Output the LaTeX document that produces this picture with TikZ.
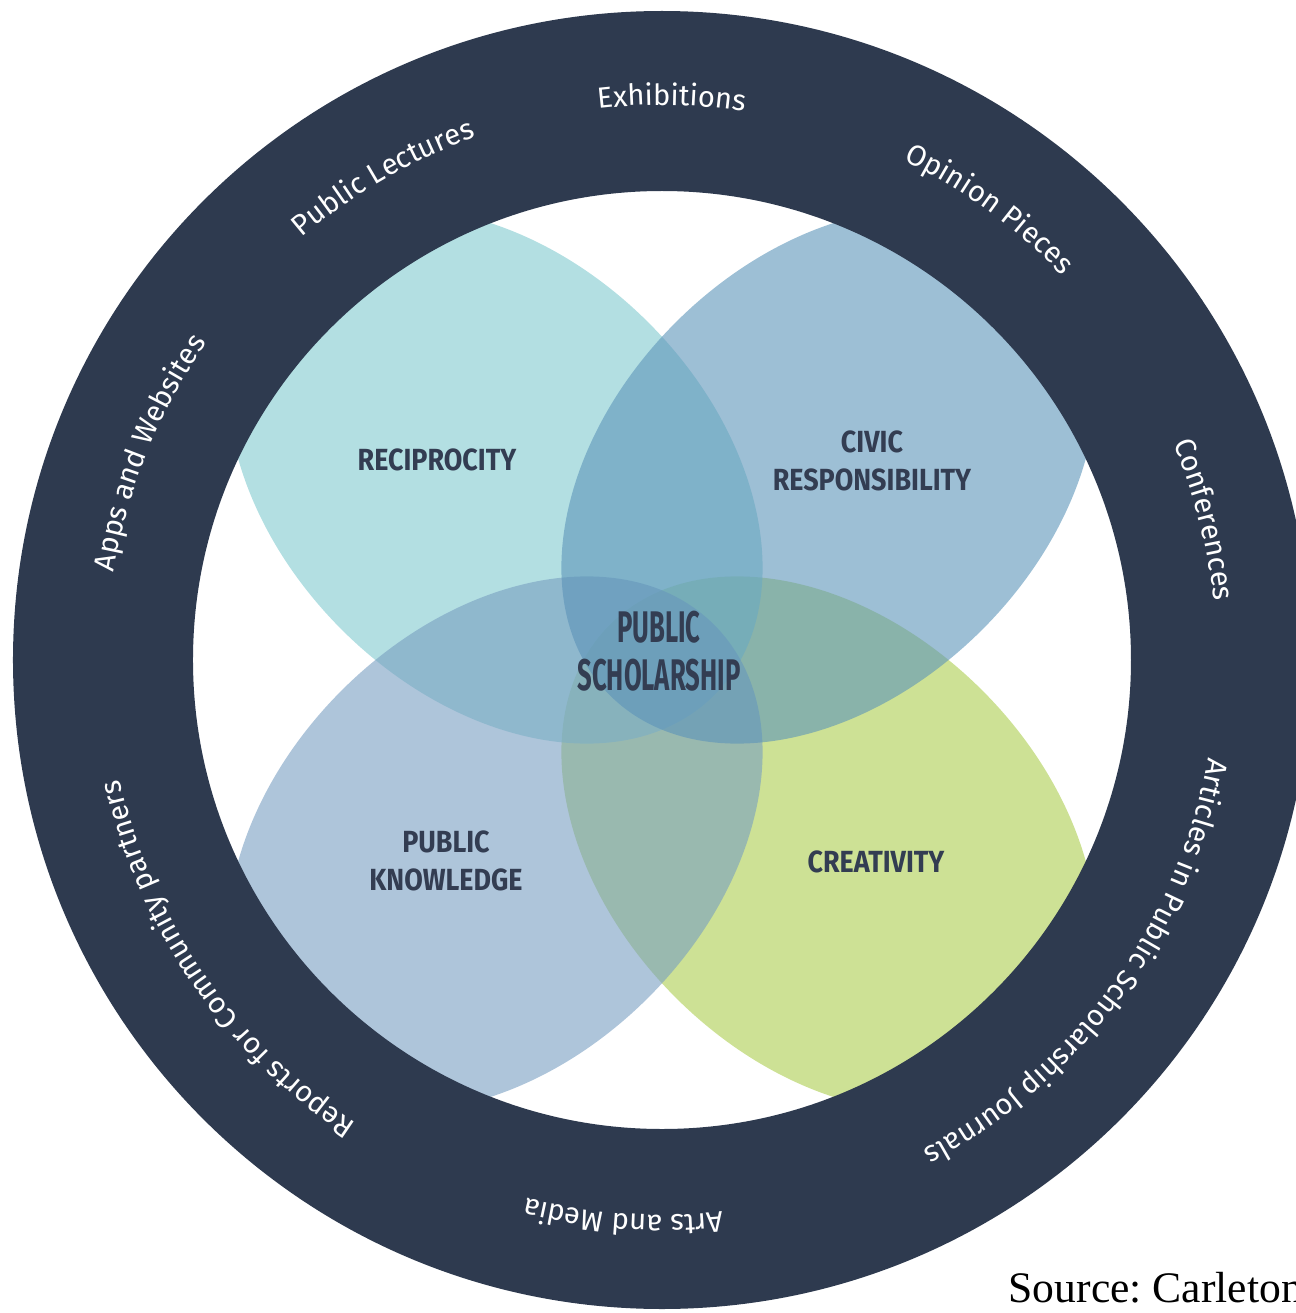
\documentclass[tikz,border=0pt]{standalone}
\usepackage{fontspec}
\setmainfont{Fira Sans}
\newfontfamily\ringfont{Fira Sans}
\newfontfamily\labelfont[FakeStretch=0.88]{Fira Sans}
\newfontfamily\titlefont[FakeStretch=0.58]{Fira Sans}
\newfontfamily\sourcefont{Liberation Serif}
\usetikzlibrary{decorations.text}
\definecolor{ringnavy}{HTML}{2E3A4F}
\definecolor{labelnavy}{HTML}{333D52}
\definecolor{recipfill}{HTML}{80CACF}
\definecolor{civicfill}{HTML}{5C94B9}
\definecolor{knowfill}{HTML}{789EC1}
\definecolor{creatfill}{HTML}{ACCD4E}
\newcommand\ringtxt{\ringfont\fontsize{8.3}{10}\selectfont}
\tikzset{
  petal/.style={fill opacity=0.6},
  ringtext/.style={decorate, decoration={text along path, text align=center, text color=white}},
  petallabel/.style={text=labelnavy, align=center, font=\labelfont\bfseries\fontsize{8.7}{10.8}\selectfont},
  titlelabel/.style={text=labelnavy, align=center, font=\titlefont\bfseries\fontsize{12.6}{13.6}\selectfont}
}
\begin{document}
\begin{tikzpicture}
  \useasboundingbox (-6.62,-6.53) rectangle (6.33,6.60);
  \fill[petal, creatfill, shift={(1.67,-1.84)}, rotate=-45] (0,0) ellipse [x radius=3.10, y radius=2.17];
  \fill[petal, recipfill, shift={(-1.67,1.84)}, rotate=-45] (0,0) ellipse [x radius=3.10, y radius=2.17];
  \fill[petal, knowfill, shift={(-1.67,-1.84)}, rotate=45] (0,0) ellipse [x radius=3.10, y radius=2.17];
  \fill[petal, civicfill, shift={(1.67,1.84)}, rotate=45] (0,0) ellipse [x radius=3.10, y radius=2.17];
  \fill[ringnavy, even odd rule] (0,0) circle (6.49) circle (4.69);
  \path[ringtext, decoration={text={|\ringtxt|Exhibitions}}]
    (109:5.55) arc[start angle=109, end angle=69, radius=5.55];
  \path[ringtext, decoration={text={|\ringtxt|Public Lectures}}]
    (140:5.55) arc[start angle=140, end angle=100, radius=5.55];
  \path[ringtext, decoration={text={|\ringtxt|Opinion Pieces}}]
    (74:5.55) arc[start angle=74, end angle=34, radius=5.55];
  \path[ringtext, decoration={text={|\ringtxt|Conferences}}]
    (34:5.55) arc[start angle=34, end angle=-5, radius=5.55];
  \path[ringtext, decoration={text={|\ringtxt|Articles in Public Scholarship Journals}}]
    (0:5.55) arc[start angle=0, end angle=-72, radius=5.55];
  \path[ringtext, decoration={text={|\ringtxt|Arts and Media}}]
    (-74:5.55) arc[start angle=-74, end angle=-114, radius=5.55];
  \path[ringtext, decoration={text={|\ringtxt|Reports for Community partners}}]
    (-110:5.55) arc[start angle=-110, end angle=-181, radius=5.55];
  \path[ringtext, decoration={text={|\ringtxt|Apps and Websites}}]
    (180:5.55) arc[start angle=180, end angle=136, radius=5.55];
  \node[petallabel] (recip) at (-2.25,2.00) {RECIPROCITY};
  \node[petallabel] (civic) at (2.10,1.99) {CIVIC\\RESPONSIBILITY};
  \node[petallabel] (know) at (-2.16,-2.01) {PUBLIC\\KNOWLEDGE};
  \node[petallabel] (creat) at (2.14,-2.02) {CREATIVITY};
  \node[titlelabel] (pubschol) at (-0.03,0.09) {PUBLIC\\SCHOLARSHIP};
  \node[anchor=base west, inner sep=0pt, font=\sourcefont\fontsize{12.4}{14}\selectfont] (source) at (3.46,-6.42) {Source:\ Carleton};
\end{tikzpicture}
\end{document}
